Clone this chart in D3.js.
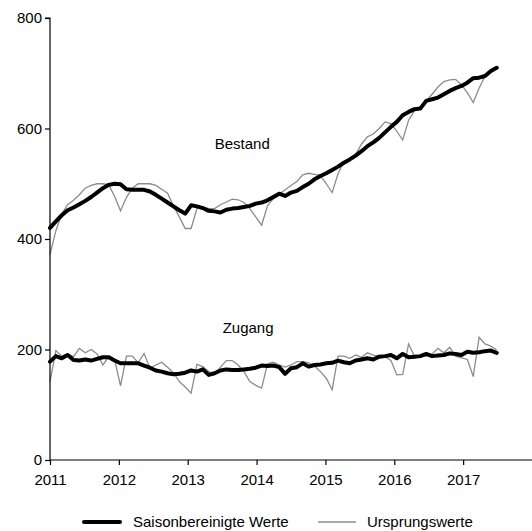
<!DOCTYPE html>
<html><head><meta charset="utf-8">
<script src="https://cdn.jsdelivr.net/npm/d3@7"></script>
<style>body{margin:0;background:#fff}svg{display:block;font-family:"Liberation Sans",Arial,sans-serif}</style>
</head><body><div id="chart"></div>
<script>
// Monthly data, Jan 2011 .. May 2017
const startYear = 2011;
const yearTicks = [2011, 2012, 2013, 2014, 2015, 2016, 2017];
const yTicks = [0, 200, 400, 600, 800];
const seriesNames = ["Saisonbereinigte Werte", "Ursprungswerte"];
const labels = ["Bestand", "Zugang"];

const bestandSA = [420,432,443,452,457,463,469,476,484,492,498,500,
  499,490,489,489,489,486,480,473,466,459,452,446,
  461,459,456,451,450,448,453,455,456,458,460,464,
  466,470,476,482,478,484,487,494,500,508,514,519,
  525,531,538,544,551,559,568,575,583,593,603,612,
  624,630,635,636,650,653,656,662,668,673,677,683,
  691,692,695,704,710];
const bestandOrig = [372,415,445,462,470,480,492,497,500,500,498,477,
  451,475,492,500,500,500,497,490,483,460,440,419,
  419,455,458,455,455,462,467,472,471,466,455,440,
  425,460,473,481,489,497,504,516,519,517,515,500,
  484,518,540,545,553,572,585,590,600,612,609,595,
  579,615,632,640,650,662,675,685,688,689,679,665,
  647,673,695,702,710];
const zugangSA = [178,188,184,190,181,180,182,180,183,186,186,180,
  175,175,175,175,171,167,162,160,157,155,156,158,
  162,160,164,154,157,162,164,163,163,164,165,167,
  171,170,171,168,156,166,168,175,169,172,173,175,
  176,180,177,175,180,182,184,182,187,188,190,184,
  192,186,187,188,192,188,189,190,193,192,190,196,
  194,195,197,198,194];
const zugangOrig = [142,198,188,192,187,202,194,200,192,172,187,181,
  134,188,188,176,193,166,172,177,168,158,142,132,
  121,173,169,160,155,168,180,180,172,160,142,135,
  130,174,177,172,168,172,178,178,176,170,160,148,
  127,188,188,184,190,186,194,190,187,187,180,154,
  155,210,188,188,188,192,202,194,204,188,185,182,
  151,222,210,206,199];

const W = 532, H = 531;
const FS = 15;
const svg = d3.select("#chart").append("svg").attr("width", W).attr("height", H);

const mL = 50, mR = 532, mT = 18, mB = 460;
const xMonth = d3.scaleLinear().domain([0, 82]).range([mL, mR]);
const xYear = d3.scaleLinear().domain([2011, 2018]).range([mL, mR]);
const y = d3.scaleLinear().domain([0, 800]).range([mB, mT]);

const line = d3.line().x((d, i) => xMonth(i)).y(d => y(d));

// Original series (thin gray)
[bestandOrig, zugangOrig].forEach(s => {
  svg.append("path").datum(s).attr("d", line)
    .attr("fill", "none").attr("stroke", "#8c8c8c").attr("stroke-width", 1.3);
});
// Seasonally adjusted (thick black)
[bestandSA, zugangSA].forEach(s => {
  svg.append("path").datum(s).attr("d", line)
    .attr("fill", "none").attr("stroke", "#000").attr("stroke-width", 4)
    .attr("stroke-linejoin", "round").attr("stroke-linecap", "round");
});

// Axes
const yAxis = d3.axisLeft(y).tickValues(yTicks).tickSize(5).tickPadding(3).tickFormat(d3.format("d"));
const gy = svg.append("g").attr("transform", `translate(${mL},0)`).call(yAxis);
const xAxis = d3.axisBottom(xYear).tickValues(yearTicks).tickSize(5).tickPadding(9).tickFormat(d3.format("d"));
const gx = svg.append("g").attr("transform", `translate(0,${mB})`).call(xAxis);
[gx, gy].forEach(g => {
  g.select(".domain").attr("stroke", "#000").attr("stroke-width", 1.2);
  g.selectAll(".tick line").attr("stroke", "#000").attr("stroke-width", 1.2);
  g.selectAll("text").attr("font-size", FS).attr("fill", "#000")
    .attr("font-family", '"Liberation Sans", Arial, sans-serif');
});
gy.select(".domain").attr("d", `M0,${mB}V${mT}H-5`);
gx.select(".domain").attr("d", `M${mL},0H${mR}`);

// Series labels
svg.append("text").attr("x", xMonth(32.7)).attr("y", 149).attr("text-anchor", "middle")
  .attr("font-size", FS).text(labels[0]);
svg.append("text").attr("x", xMonth(33.7)).attr("y", 333).attr("text-anchor", "middle")
  .attr("font-size", FS).text(labels[1]);

// Legend
const leg = svg.append("g");
leg.append("line").attr("x1", 84).attr("x2", 120).attr("y1", 522).attr("y2", 522)
  .attr("stroke", "#000").attr("stroke-width", 4).attr("stroke-linecap", "round");
leg.append("text").attr("x", 133).attr("y", 527).attr("font-size", FS).text(seriesNames[0]);
leg.append("line").attr("x1", 318).attr("x2", 356).attr("y1", 522).attr("y2", 522)
  .attr("stroke", "#8c8c8c").attr("stroke-width", 1.3);
leg.append("text").attr("x", 367).attr("y", 527).attr("font-size", FS).text(seriesNames[1]);
</script></body></html>
